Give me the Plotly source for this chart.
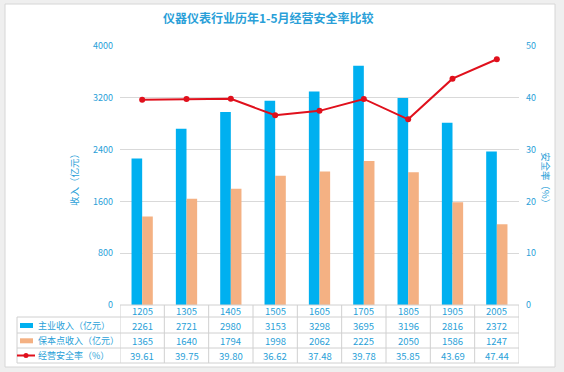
import plotly.graph_objects as go

categories = ["1205", "1305", "1405", "1505", "1605", "1705", "1805", "1905", "2005"]
main_revenue = [2261, 2721, 2980, 3153, 3298, 3695, 3196, 2816, 2372]
breakeven_revenue = [1365, 1640, 1794, 1998, 2062, 2225, 2050, 1586, 1247]
safety_rate = [39.61, 39.75, 39.80, 36.62, 37.48, 39.78, 35.85, 43.69, 47.44]
series_names = ["主业收入（亿元）", "保本点收入（亿元）", "经营安全率（%）"]
left_ticks = [0, 800, 1600, 2400, 3200, 4000]
right_ticks = [0, 10, 20, 30, 40, 50]

BLUE = "#00b0f0"
ORANGE = "#f4b183"
RED = "#e0101c"
TXT = "#2a9fd8"
GRID = "#d9d9d9"
FONT = "Noto Sans CJK SC"

W, H = 564, 372
L, R, T, B = 120, 519, 46, 305  # plot area in pixels

def py(p):  # pixel y -> paper
    return (B - p) / (B - T)

def px(p):  # pixel x -> paper
    return (p - L) / (R - L)

fig = go.Figure()
fig.add_trace(go.Bar(x=categories, y=main_revenue, name=series_names[0],
                     marker=dict(color=BLUE, line=dict(width=0))))
fig.add_trace(go.Bar(x=categories, y=breakeven_revenue, name=series_names[1],
                     marker=dict(color=ORANGE, line=dict(width=0))))
fig.add_trace(go.Scatter(x=categories, y=safety_rate, name=series_names[2], yaxis="y2",
                         mode="lines+markers", line=dict(color=RED, width=2),
                         marker=dict(color=RED, size=6)))

shapes = []
shapes.append(dict(type="rect", xref="paper", yref="paper", x0=px(5), x1=px(555),
                   y0=py(367), y1=py(4), fillcolor="white", line=dict(color="#d6d6d6", width=1),
                   layer="below"))

row_lines = [317, 333, 348, 363]
tcol = "#d0d0d0"
shapes.append(dict(type="line", xref="paper", yref="paper", x0=0, x1=1, y0=0, y1=0,
                   line=dict(color=tcol, width=1)))
for rl in row_lines:
    shapes.append(dict(type="line", xref="paper", yref="paper", x0=px(17), x1=1,
                       y0=py(rl), y1=py(rl), line=dict(color=tcol, width=1)))
shapes.append(dict(type="line", xref="paper", yref="paper", x0=px(17), x1=px(17),
                   y0=py(317), y1=py(363), line=dict(color=tcol, width=1)))
n = len(categories)
for i in range(n + 1):
    shapes.append(dict(type="line", xref="x", yref="paper", x0=i - 0.5, x1=i - 0.5,
                       y0=py(305), y1=py(363), line=dict(color=tcol, width=1)))

annotations = []
annotations.append(dict(text="<b>仪器仪表行业历年1-5月经营安全率比较</b>", xref="paper", yref="paper",
                        x=px(268), y=py(17), showarrow=False,
                        font=dict(family=FONT, size=12, color=TXT), xanchor="center", yanchor="middle"))
annotations.append(dict(text="收入（亿元）", xref="paper", yref="paper", x=px(74), y=py(178),
                        textangle=-90, showarrow=False, xanchor="center", yanchor="middle",
                        font=dict(family=FONT, size=9.5, color=TXT)))
annotations.append(dict(text="安全率（%）", xref="paper", yref="paper", x=px(546), y=py(180),
                        textangle=90, showarrow=False, xanchor="center", yanchor="middle",
                        font=dict(family=FONT, size=9.5, color=TXT)))

row_centers = [311, 325.5, 340.8, 355.5]
table_rows = [categories, main_revenue, breakeven_revenue,
              ["%.2f" % v for v in safety_rate]]
for r, vals in enumerate(table_rows):
    for i, v in enumerate(vals):
        annotations.append(dict(text=str(v), xref="x", yref="paper", x=i, y=py(row_centers[r]),
                                showarrow=False, xanchor="center", yanchor="middle",
                                font=dict(family=FONT, size=9.5, color=TXT)))
for k in range(3):
    annotations.append(dict(text=series_names[k], xref="paper", yref="paper", x=px(36),
                            y=py(row_centers[k + 1]), showarrow=False, xanchor="left", yanchor="middle",
                            font=dict(family=FONT, size=9, color=TXT)))
shapes.append(dict(type="rect", xref="paper", yref="paper", x0=px(20), x1=px(33),
                   y0=py(row_centers[1] + 2.5), y1=py(row_centers[1] - 2.5),
                   fillcolor=BLUE, line=dict(width=0)))
shapes.append(dict(type="rect", xref="paper", yref="paper", x0=px(20), x1=px(33),
                   y0=py(row_centers[2] + 2.5), y1=py(row_centers[2] - 2.5),
                   fillcolor=ORANGE, line=dict(width=0)))
shapes.append(dict(type="line", xref="paper", yref="paper", x0=px(17), x1=px(35),
                   y0=py(row_centers[3]), y1=py(row_centers[3]), line=dict(color=RED, width=2)))
shapes.append(dict(type="circle", xref="paper", yref="paper", x0=px(23.5), x1=px(28.5),
                   y0=py(row_centers[3] + 2.5), y1=py(row_centers[3] - 2.5),
                   fillcolor=RED, line=dict(width=0)))

fig.update_layout(
    width=W, height=H,
    margin=dict(l=L, r=W - R, t=T, b=H - B, pad=0),
    paper_bgcolor="#efefef", plot_bgcolor="rgba(0,0,0,0)",
    showlegend=False,
    barmode="group", bargap=0.52, bargroupgap=0,
    font=dict(family=FONT, size=9.5, color=TXT),
    xaxis=dict(type="category", showticklabels=False, showgrid=False, zeroline=False,
               showline=False, ticks="", range=[-0.5, n - 0.5]),
    yaxis=dict(range=[0, 4000], tickvals=left_ticks, showgrid=True, gridcolor=GRID, gridwidth=1,
               zeroline=False, showline=False, ticks="", tickfont=dict(color=TXT, size=9),
               ticklabelstandoff=6),
    yaxis2=dict(range=[0, 50], tickvals=right_ticks, overlaying="y", side="right",
                showgrid=False, zeroline=False, showline=False, ticks="",
                tickfont=dict(color=TXT, size=9), ticklabelstandoff=6),
    shapes=shapes, annotations=annotations,
)

fig.write_html("out.html", config={"displayModeBar": False},
               post_script="document.body.style.margin='0';document.body.style.overflow='hidden';")
